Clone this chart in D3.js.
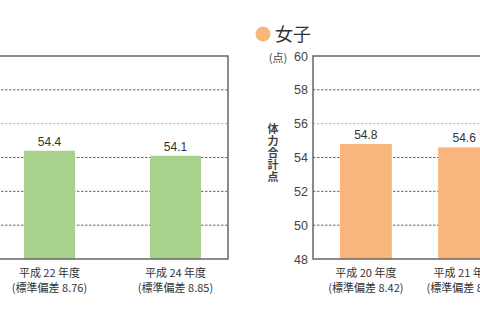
<!DOCTYPE html>
<html>
<head>
<meta charset="utf-8">
<script src="https://cdn.jsdelivr.net/npm/d3@7"></script>
<style>
  body { margin: 0; background: #fff; }
  svg { display: block; font-family: "Noto Sans CJK JP", "Liberation Sans", sans-serif; }
</style>
</head>
<body>
<div id="chart"></div>
<script>
// Data
const boysYears = ['平成 22 年度', '平成 24 年度'];
const boysSD = ['8.76', '8.85'];
const boysValues = [54.4, 54.1];

const girlsYears = ['平成 20 年度', '平成 21 年度'];
const girlsSD = ['8.42', '8.45'];
const girlsValues = [54.8, 54.6];

const yTicks = [48, 50, 52, 54, 56, 58, 60];

const width = 480, height = 320;
const plotTop = 56, plotBottom = 259;

const svg = d3.select('#chart').append('svg')
    .attr('width', width)
    .attr('height', height);

const y = d3.scaleLinear().domain([48, 60]).range([plotBottom, plotTop]);

function drawPanel(opts) {
    const g = svg.append('g');
    const x = d3.scaleBand()
        .domain(opts.years)
        .range(opts.range)
        .paddingInner(opts.padInner)
        .paddingOuter(opts.padOuter);

    // dotted grid lines
    g.selectAll('.grid')
        .data(yTicks.filter(t => t > 48 && t < 60))
        .enter().append('line')
        .attr('x1', opts.range[0])
        .attr('x2', opts.range[1])
        .attr('y1', d => y(d))
        .attr('y2', d => y(d))
        .attr('stroke', d => d === 56 ? '#b5b5b5' : '#6a6a6a')
        .attr('stroke-width', 1)
        .attr('stroke-dasharray', '2.5,1.5');

    // bars
    const data = opts.years.map((c, i) => ({ cat: c, v: opts.values[i], sd: opts.sd[i] }));
    g.selectAll('.bar')
        .data(data)
        .enter().append('rect')
        .attr('x', d => x(d.cat))
        .attr('y', d => y(d.v))
        .attr('width', x.bandwidth())
        .attr('height', d => y(48) - y(d.v))
        .attr('fill', opts.color);

    // value labels
    g.selectAll('.val')
        .data(data)
        .enter().append('text')
        .attr('x', d => x(d.cat) + x.bandwidth() / 2)
        .attr('y', d => y(d.v) - 5)
        .attr('text-anchor', 'middle')
        .attr('font-family', '"Liberation Sans", Arial, sans-serif')
        .attr('font-size', 12)
        .attr('fill', '#333')
        .text(d => d.v.toFixed(1));

    // frame
    g.append('rect')
        .attr('x', opts.range[0])
        .attr('y', plotTop)
        .attr('width', opts.range[1] - opts.range[0])
        .attr('height', plotBottom - plotTop)
        .attr('fill', 'none')
        .attr('stroke', '#666')
        .attr('stroke-width', 1.5);

    // category labels
    const lab = g.selectAll('.cat')
        .data(data)
        .enter().append('text')
        .attr('text-anchor', 'middle')
        .attr('font-size', 11)
        .attr('fill', '#333');
    lab.append('tspan')
        .attr('x', d => x(d.cat) + x.bandwidth() / 2)
        .attr('y', 277)
        .text(d => d.cat);
    lab.append('tspan')
        .attr('x', d => x(d.cat) + x.bandwidth() / 2)
        .attr('y', 292)
        .text(d => '(標準偏差 ' + d.sd + ')');

    return x;
}

// left panel (男子), mostly cut off on the left
drawPanel({
    years: boysYears, values: boysValues, sd: boysSD,
    range: [-3, 228], padInner: 0.595, padOuter: 0.214, color: '#a9d18e'
});

// right panel (女子), cut off on the right
drawPanel({
    years: girlsYears, values: girlsValues, sd: girlsSD,
    range: [313, 517], padInner: 0.472, padOuter: 0.274, color: '#f8b67c'
});

// y axis of the right panel
const yAxis = d3.axisLeft(y).tickValues(yTicks).tickSize(0).tickPadding(5);
const ya = svg.append('g')
    .attr('transform', 'translate(313,0)')
    .call(yAxis);
ya.select('.domain').remove();
ya.selectAll('text')
    .attr('font-family', '"Liberation Sans", Arial, sans-serif')
    .attr('font-size', 12.5)
    .attr('fill', '#444');

svg.append('text')
    .attr('x', 278)
    .attr('y', 62)
    .attr('text-anchor', 'middle')
    .attr('font-size', 11)
    .attr('fill', '#444')
    .text('(点)');

// vertical axis title
svg.append('text')
    .attr('x', 273)
    .attr('y', 153)
    .attr('text-anchor', 'middle')
    .attr('font-size', 11)
    .attr('font-weight', 'bold')
    .attr('fill', '#444')
    .style('writing-mode', 'vertical-rl')
    .style('letter-spacing', '1px')
    .text('体力合計点');

// legend
svg.append('circle')
    .attr('cx', 263)
    .attr('cy', 34)
    .attr('r', 7.5)
    .attr('fill', '#f8b67c');
svg.append('text')
    .attr('x', 275)
    .attr('y', 41)
    .attr('font-size', 18)
    .attr('fill', '#333')
    .text('女子');
</script>
</body>
</html>
